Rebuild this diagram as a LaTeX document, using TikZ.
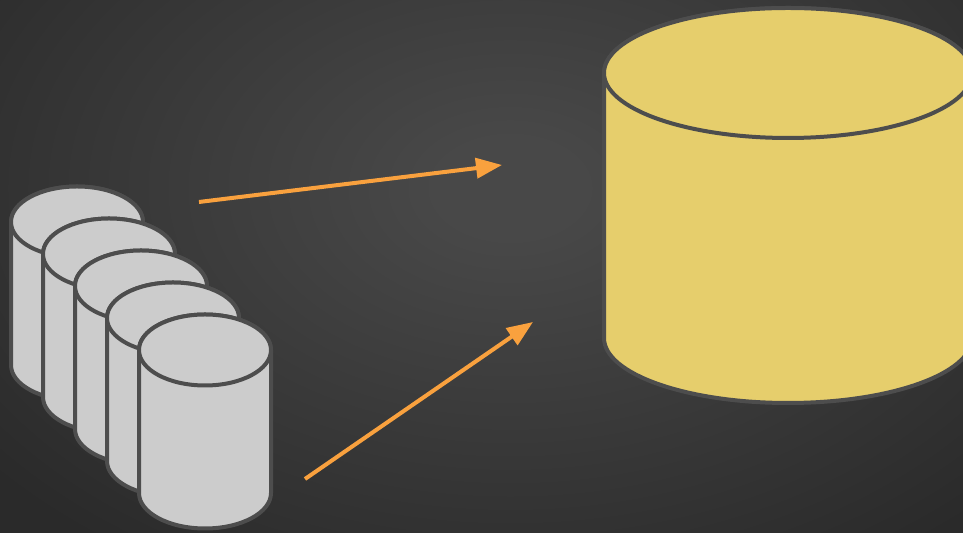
\documentclass[tikz,border=0pt]{standalone}
\usetikzlibrary{arrows.meta}
\definecolor{bgin}{HTML}{484848}
\definecolor{bgout}{HTML}{2A2A2A}
\definecolor{rimgray}{HTML}{4D4D4D}
\definecolor{diskgray}{HTML}{CCCCCC}
\definecolor{diskyellow}{HTML}{E6CE6C}
\definecolor{flow}{HTML}{F9A13E}
\pgfdeclareradialshading{bgglow}{\pgfpoint{0bp}{0bp}}{color(0bp)=(bgin); color(1.5bp)=(bgin); color(14bp)=(bgout); color(100bp)=(bgout)}
\tikzset{
  rim/.style={draw=rimgray, line width=0.08cm, line join=round},
  flowline/.style={draw=flow, line width=0.08cm, -{Triangle[length=0.52cm, width=0.4cm]}}
}
\begin{document}
\begin{tikzpicture}
\useasboundingbox (0,0) rectangle (19.26,10.66);
\clip (0,0) rectangle (19.26,10.66);
\shade[shading=bgglow] (10.2,6.9) ellipse (24 and 16);

% small disks, back to front
\foreach \i in {0,...,4} {
  \begin{scope}[shift={(0.64*\i,-0.64*\i)}]
    \filldraw[rim, fill=diskgray] (0.22,6.22) -- (0.22,3.36) arc[start angle=180, end angle=360, x radius=1.32, y radius=0.71] -- (2.86,6.22) arc[start angle=0, end angle=180, x radius=1.32, y radius=0.71] -- cycle;
    \draw[rim, fill=diskgray] (1.54,6.22) ellipse (1.32 and 0.71);
  \end{scope}
}

% big disk
\filldraw[rim, fill=diskyellow] (12.08,9.2) -- (12.08,3.9) arc[start angle=180, end angle=360, x radius=3.68, y radius=1.3] -- (19.44,9.2) arc[start angle=0, end angle=180, x radius=3.68, y radius=1.3] -- cycle;
\draw[rim, fill=diskyellow] (15.76,9.2) ellipse (3.68 and 1.3);

\coordinate (S1) at (3.98,6.62);
\coordinate (T1) at (10.04,7.36);
\coordinate (S2) at (6.1,1.08);
\coordinate (T2) at (10.66,4.22);
\draw[flowline] (S1) -- (T1);
\draw[flowline] (S2) -- (T2);
\end{tikzpicture}
\end{document}
